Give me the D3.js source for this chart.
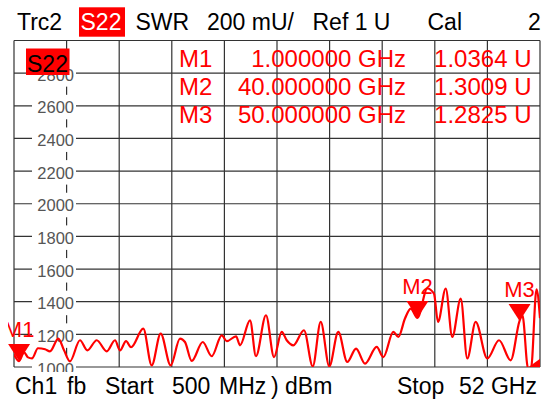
<!DOCTYPE html>
<html>
<head>
<meta charset="utf-8">
<script src="https://cdn.jsdelivr.net/npm/d3@7"></script>
<style>
body { margin: 0; background: #fff; }
svg text { font-family: "Liberation Sans", Arial, sans-serif; }
</style>
</head>
<body>
<div id="chart"></div>
<script>
// trace S22 (SWR, axis units), frequency in GHz
const freqGHz = [0.5, 1.0, 1.48, 1.87, 2.26, 2.85, 3.54, 4.02, 4.84, 5.40,
    5.98, 6.96, 7.68, 8.60, 9.58, 10.39, 10.88, 11.47, 11.96, 13.16,
    13.98, 14.86, 15.84, 16.75, 17.24, 17.90, 18.98, 19.86, 20.84, 21.33,
    22.24, 22.63, 23.61, 24.19, 25.17, 25.96, 26.71, 27.20, 27.85, 28.89,
    29.75, 30.53, 31.37, 32.25, 33.13, 33.99, 34.87, 36.01, 36.66, 37.64,
    38.13, 38.78, 39.34, 40.0, 40.97, 41.62, 42.01, 42.77, 43.41, 44.24,
    44.88, 45.70, 46.84, 47.99, 49.13, 50.0, 50.28, 50.83, 51.12, 51.66, 52.0];
const swr = [1078, 1036, 1090, 1059, 1053, 1115, 1109, 1096, 1174, 1102,
    1035, 1164, 1102, 1164, 1096, 1164, 1102, 1158, 1121, 1235,
    1010, 1205, 1010, 1174, 1153, 1037, 1153, 1066, 1194, 1158,
    1188, 1133, 1286, 1066, 1317, 1061, 1215, 1164, 1133, 1225,
    1004, 1276, 1004, 1215, 1031, 1113, 1021, 1123, 1061, 1215,
    1184, 1297, 1358, 1301, 1481, 1450, 1276, 1481, 1184, 1419,
    1052, 1276, 1052, 1164, 1041, 1283, 1317, 992, 992, 1476, 1299];

const yTicks = [1000, 1200, 1400, 1600, 1800, 2000, 2200, 2400, 2600, 2800];

const markerNames = ["M1", "M2", "M3"];
const markerFreqs = [1, 40, 50];
const markerValues = [1036.4, 1300.9, 1282.5];

// over-range flag at the right end of the trace
const overRange = [[50.9, 1000], [52, 1050], [52, 1000]];

const width = 544, height = 401;
const plot = { left: 14, right: 540, top: 40.5, bottom: 367 };
const red = "#ff0000";
const gridColor = "#333";

const svg = d3.select("#chart").append("svg")
    .attr("width", width)
    .attr("height", height);

const x = d3.scaleLinear().domain([0.5, 52]).range([plot.left, plot.right]);
const y = d3.scaleLinear().domain([1000, 3000]).range([plot.bottom, plot.top]);

const defs = svg.append("defs");
defs.append("clipPath").attr("id", "plotClip")
    .append("rect")
    .attr("x", plot.left).attr("y", plot.top)
    .attr("width", plot.right - plot.left)
    .attr("height", plot.bottom - plot.top);
defs.append("clipPath").attr("id", "labelClip")
    .append("rect").attr("x", 0).attr("y", 0).attr("width", width).attr("height", 372);
defs.append("clipPath").attr("id", "mkClip")
    .append("rect").attr("x", 8).attr("y", 0).attr("width", width).attr("height", height);

// grid: 10 x 10 divisions
const xDivs = d3.range(11).map(i => x.domain()[0] + i * (x.domain()[1] - x.domain()[0]) / 10);
const yDivs = d3.range(1000, 3001, 200);

const grid = svg.append("g");
grid.selectAll(".vl").data(xDivs).enter().append("line")
    .attr("x1", d => x(d)).attr("x2", d => x(d))
    .attr("y1", plot.top).attr("y2", plot.bottom)
    .attr("stroke", gridColor).attr("stroke-width", 1.2);
grid.selectAll(".hl").data(yDivs).enter().append("line")
    .attr("x1", plot.left).attr("x2", plot.right)
    .attr("y1", d => y(d)).attr("y2", d => y(d))
    .attr("stroke", gridColor).attr("stroke-width", 1.2);

// y labels with white boxes
const ylab = svg.append("g").attr("clip-path", "url(#labelClip)");
const yl = ylab.selectAll(".yl").data(yTicks).enter().append("g");
yl.append("rect")
    .attr("x", 32).attr("y", d => y(d) - 11)
    .attr("width", 44).attr("height", 24.5)
    .attr("fill", "#fff");
yl.append("text")
    .attr("x", 74).attr("y", d => y(d) + 7.5)
    .attr("text-anchor", "end")
    .attr("fill", "#555")
    .style("font-size", "16.5px")
    .text(d => d);

// trace label box
svg.append("rect").attr("x", 26).attr("y", 48.5).attr("width", 43.5).attr("height", 26.5).attr("fill", red);
svg.append("text").attr("x", 27).attr("y", 71.5).style("font-size", "23px").attr("fill", "#000").text("S22");

// marker table
const table = svg.append("g").attr("fill", red).style("font-size", "24px");
markerNames.forEach((m, i) => {
    const by = 66.7 + i * 28;
    table.append("text").attr("x", 179).attr("y", by).text(m);
    table.append("text").attr("x", 406).attr("y", by).attr("text-anchor", "end")
        .text(d3.format(".6f")(markerFreqs[i]) + " GHz");
    table.append("text").attr("x", 531.5).attr("y", by).attr("text-anchor", "end")
        .text((markerValues[i] / 1000).toFixed(4) + " U");
});

// trace
const traceData = freqGHz.map((f, i) => ({ f: f, v: swr[i] }));
const line = d3.line()
    .x(d => x(d.f))
    .y(d => y(d.v))
    .curve(d3.curveMonotoneX);

svg.append("path")
    .datum(traceData)
    .attr("clip-path", "url(#plotClip)")
    .attr("fill", "none")
    .attr("stroke", red)
    .attr("stroke-width", 2.2)
    .attr("stroke-linejoin", "round")
    .attr("d", line);

svg.append("path")
    .attr("d", d3.line().x(d => x(d[0])).y(d => y(d[1]))(overRange) + "Z")
    .attr("fill", red);

// markers
const mk = svg.append("g");
markerNames.forEach((m, i) => {
    const cx = x(markerFreqs[i]), cy = y(markerValues[i]);
    mk.append("path")
        .attr("d", `M${cx},${cy} l-11,-17 h22 Z`)
        .attr("fill", red);
    mk.append("text")
        .attr("clip-path", "url(#mkClip)")
        .attr("x", cx).attr("y", cy - 24)
        .attr("text-anchor", "middle")
        .attr("fill", red)
        .style("font-size", "22px")
        .text(m);
});

// header line
svg.append("rect").attr("x", 79).attr("y", 7.3).attr("width", 46).attr("height", 29.4).attr("fill", red);
const header = svg.append("g").style("font-size", "23px").attr("fill", "#000");
header.append("text").attr("x", 17).attr("y", 29.5).text("Trc2");
header.append("text").attr("x", 80.5).attr("y", 29.5).attr("fill", "#fff").text("S22");
header.append("text").attr("x", 135.5).attr("y", 29.5).text("SWR");
header.append("text").attr("x", 207).attr("y", 29.5).text("200 mU/");
header.append("text").attr("x", 312.5).attr("y", 29.5).text("Ref 1 U");
header.append("text").attr("x", 427.5).attr("y", 29.5).text("Cal");
header.append("text").attr("x", 528).attr("y", 29.5).text("2");

// footer line
const footer = svg.append("g").style("font-size", "23px").attr("fill", "#000");
footer.append("text").attr("x", 15).attr("y", 394).text("Ch1");
footer.append("text").attr("x", 67).attr("y", 394).text("fb");
footer.append("text").attr("x", 105).attr("y", 394).text("Start");
footer.append("text").attr("x", 172).attr("y", 394).text("500");
footer.append("text").attr("x", 219).attr("y", 394).text("MHz");
footer.append("text").attr("x", 271).attr("y", 394).text(")");
footer.append("text").attr("x", 285).attr("y", 394).text("dBm");
footer.append("text").attr("x", 397).attr("y", 394).text("Stop");
footer.append("text").attr("x", 459).attr("y", 394).text("52 GHz");
</script>
</body>
</html>
